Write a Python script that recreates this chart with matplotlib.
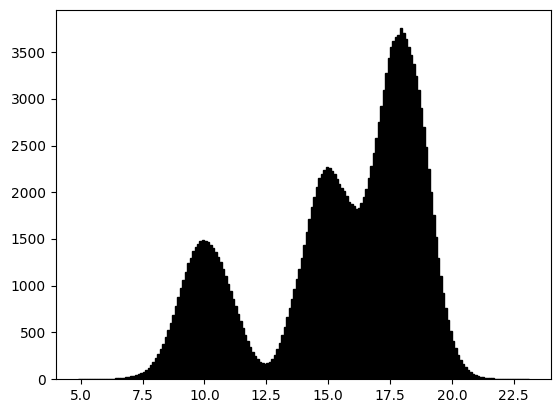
import numpy as np
import matplotlib
matplotlib.use("Agg")
import matplotlib.pyplot as plt

# Histogram: bins of width 0.1 starting at 4.9
bin_start = 4.9
bin_width = 0.1
bin_counts = [
    1, 1, 1, 1, 1, 1, 1, 2, 2, 2,            # 4.9 - 5.9
    2, 3, 3, 4, 5, 6, 8, 10, 13, 17,         # 5.9 - 6.9
    22, 27, 33, 40, 49, 60, 75, 95, 120, 150,  # 6.9 - 7.9
    185, 225, 270, 320, 380, 445, 520, 600, 690, 780,  # 7.9 - 8.9
    880, 970, 1060, 1150, 1240, 1300, 1370, 1410, 1450, 1480,  # 8.9 - 9.9
    1490, 1475, 1470, 1440, 1400, 1360, 1310, 1250, 1180, 1100,  # 9.9 - 10.9
    1020, 940, 860, 780, 700, 620, 545, 470, 405, 345,  # 10.9 - 11.9
    290, 245, 210, 185, 170, 163, 168, 185, 215, 260,  # 11.9 - 12.9
    320, 390, 470, 560, 660, 760, 860, 960, 1070, 1180,  # 12.9 - 13.9
    1300, 1430, 1570, 1710, 1840, 1950, 2060, 2150, 2200, 2240,  # 13.9 - 14.9
    2270, 2260, 2230, 2190, 2140, 2090, 2050, 2010, 1960, 1900,  # 14.9 - 15.9
    1870, 1850, 1820, 1830, 1880, 1950, 2040, 2150, 2280, 2420,  # 15.9 - 16.9
    2580, 2750, 2920, 3100, 3280, 3440, 3560, 3620, 3660, 3680,  # 16.9 - 17.9
    3760, 3700, 3640, 3560, 3470, 3370, 3250, 3100, 2900, 2700,  # 17.9 - 18.9
    2480, 2250, 2000, 1760, 1520, 1300, 1100, 920, 760, 630,  # 18.9 - 19.9
    510, 410, 330, 260, 205, 160, 125, 95, 72, 55,  # 19.9 - 20.9
    42, 32, 25, 19, 15, 12, 9, 7, 5, 4,  # 20.9 - 21.9
    3, 3, 2, 2, 2, 1, 1, 1, 1, 1,  # 21.9 - 22.9
    1, 1,  # 22.9 - 23.1
]

n = len(bin_counts)
edges = bin_start + bin_width * np.arange(n + 1)
centers = (edges[:-1] + edges[1:]) / 2

fig = plt.figure(figsize=(5.6, 4.13), dpi=100)
ax = fig.add_axes([0.0995, 0.0823, 0.8845, 0.8927])
ax.hist(centers, bins=edges, weights=bin_counts, color="black",
        edgecolor="black", linewidth=1.0)

fig.savefig("out.png", dpi=100)
